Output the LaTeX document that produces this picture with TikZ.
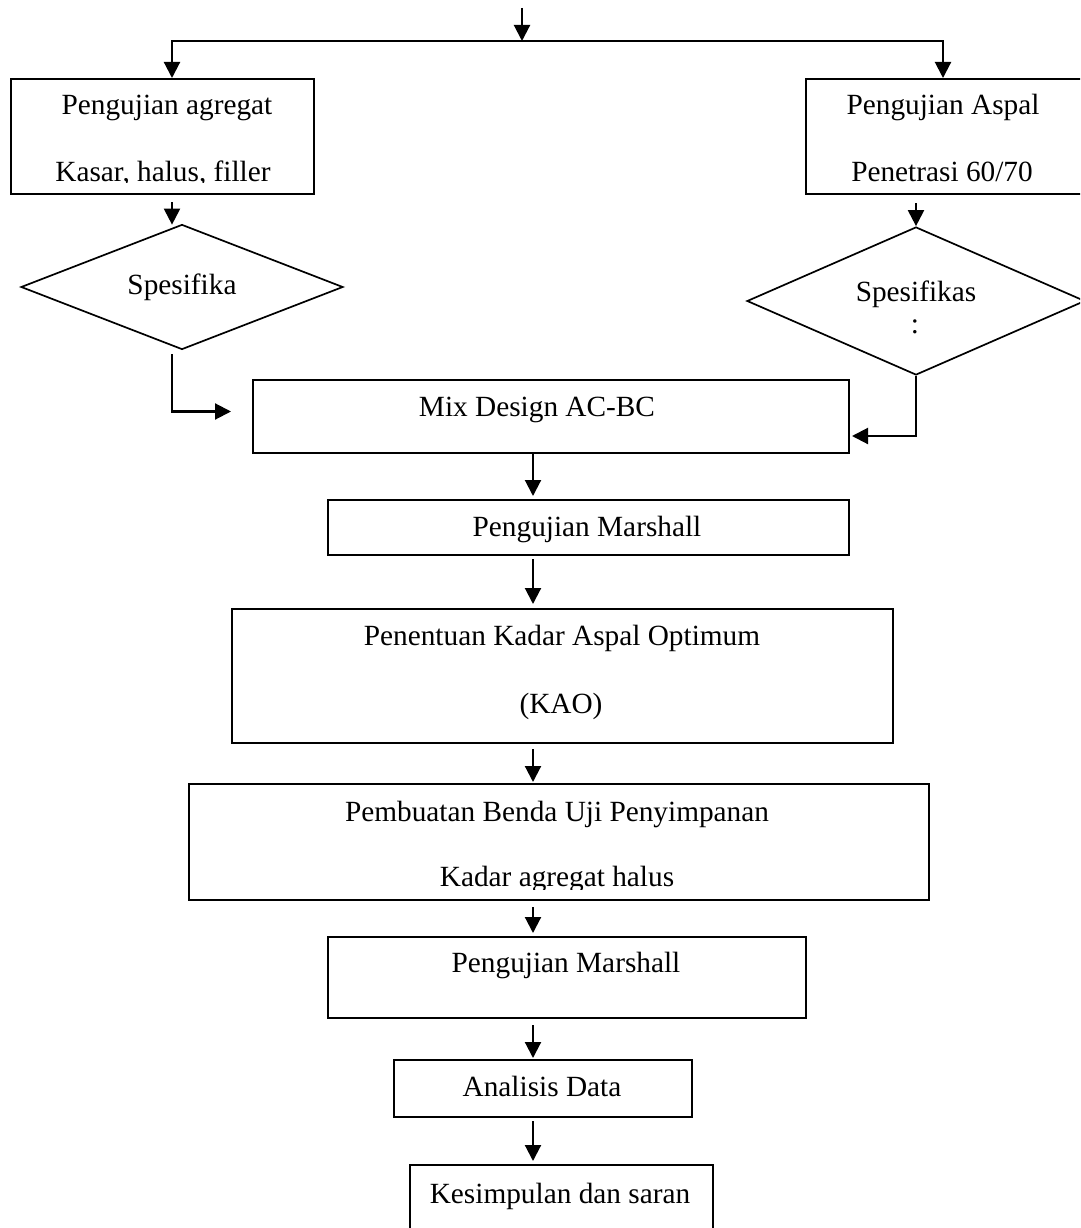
\documentclass[tikz,border=0pt]{standalone}
\usepackage{fontspec}
\setmainfont{Liberation Serif}
\usetikzlibrary{shapes.geometric,arrows.meta}
\begin{document}
\begin{tikzpicture}[x=1pt,y=-1pt]
	\tikzset{box/.style = {shape=rectangle,draw,line width=2pt,inner sep=0pt,anchor=north west}}
	\tikzset{dia/.style = {shape=diamond,draw,line width=1.7pt,inner sep=0pt}}
	\tikzset{txt/.style = {anchor=base,inner sep=0pt,font=\fontsize{29.3pt}{35pt}\selectfont}}
	\tikzset{arr/.style = {-{Triangle[length=16pt,width=16pt]},line width=2.1pt}}
	\path[use as bounding box,clip] (0,0) rectangle (1080,1228);
	% boxes
	\node[box,minimum width=303pt,minimum height=115pt] (agg) at (10,78) {};
	\node[box,minimum width=277pt,minimum height=115pt] (asp) at (805,78) {};
	\node[dia,minimum width=322pt,minimum height=125pt] (dl) at (182,287) {};
	\node[dia,minimum width=338pt,minimum height=148pt] (dr) at (916,301) {};
	\node[box,minimum width=596pt,minimum height=73pt] (mix) at (252,379) {};
	\node[box,minimum width=521pt,minimum height=55pt] (mar1) at (327,499) {};
	\node[box,minimum width=661pt,minimum height=134pt] (kao) at (231,608) {};
	\node[box,minimum width=740pt,minimum height=116pt] (pemb) at (188,783) {};
	\node[box,minimum width=478pt,minimum height=81pt] (mar2) at (327,936) {};
	\node[box,minimum width=298pt,minimum height=57pt] (ana) at (393,1059) {};
	\node[box,minimum width=303pt,minimum height=90pt] (kes) at (409,1164) {};
	% texts
	\node[txt] (agg1) at (167,114) {Pengujian agregat};
	\begin{scope}
		\clip (12,150) rectangle (311,182.5);
		\node[txt] (agg2) at (163,181) {Kasar, halus, filler};
	\end{scope}
	\node[txt] (asp1) at (943,114) {Pengujian Aspal};
	\node[txt] (asp2) at (942,181) {Penetrasi 60/70};
	\node[txt] (dlt) at (182,294) {Spesifika};
	\node[txt] (drt) at (916,301) {Spesifikas};
	\node[txt] (drc) at (915,333) {:};
	\node[txt] (mixt) at (537,416) {Mix Design AC-BC};
	\node[txt] (mar1t) at (587,536) {Pengujian Marshall};
	\node[txt] (kao1) at (562,645) {Penentuan Kadar Aspal Optimum};
	\node[txt] (kao2) at (561,713) {(KAO)};
	\node[txt] (pemb1) at (557,821) {Pembuatan Benda Uji Penyimpanan};
	\begin{scope}
		\clip (190,850) rectangle (926,889);
		\node[txt] (pemb2) at (557,886) {Kadar agregat halus};
	\end{scope}
	\node[txt] (mar2t) at (566,972) {Pengujian Marshall};
	\node[txt] (anat) at (542,1096) {Analisis Data};
	\node[txt] (kest) at (560,1203) {Kesimpulan dan saran};
	% connectors
	\coordinate (in) at (522,8);
	\coordinate (fork) at (522,41);
	\coordinate (colA) at (172,0);
	\coordinate (colB) at (943,0);
	\coordinate (colC) at (533,0);
	\draw[arr] (in) -- (fork);
	\draw[arr] (fork) -| (agg.north -| colA);
	\draw[arr] (fork) -| (asp.north -| colB);
	\draw[arr] ([yshift=-7pt]agg.south -| colA) -- ([yshift=-1pt]dl.north -| colA);
	\draw[arr] ([yshift=-8pt]asp.south -| dr.north) -- (dr.north);
	\draw[arr] ([yshift=-4pt]dl.south -| colA) |- ([xshift=-21pt,yshift=5pt]mix.west);
	\draw[arr] (dr.south) |- ([xshift=2pt,yshift=-19.5pt]mix.east);
	\draw[arr,shorten >=3pt] (mix.south -| colC) -- (mar1.north -| colC);
	\draw[arr,shorten <=3pt,shorten >=4pt] (mar1.south -| colC) -- (kao.north -| colC);
	\draw[arr,shorten <=5pt,shorten >=1pt] (kao.south -| colC) -- (pemb.north -| colC);
	\draw[arr,shorten <=6pt,shorten >=3pt] (pemb.south -| colC) -- (mar2.north -| colC);
	\draw[arr,shorten <=6pt,shorten >=1pt] (mar2.south -| colC) -- (ana.north -| colC);
	\draw[arr,shorten <=3pt,shorten >=3pt] (ana.south -| colC) -- (kes.north -| colC);
\end{tikzpicture}
\end{document}
